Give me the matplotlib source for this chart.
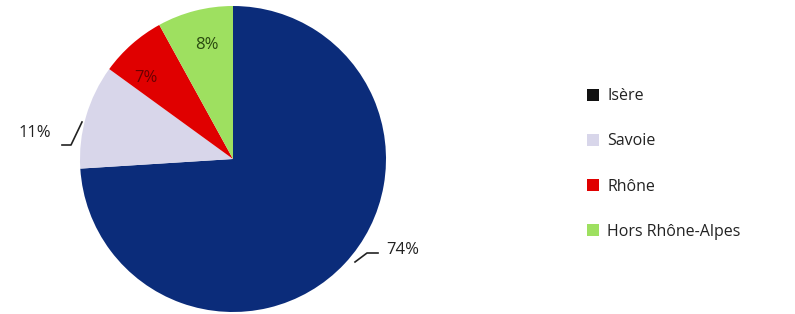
import matplotlib.pyplot as plt
from matplotlib.patches import Patch

# Répartition par origine
regions = ["Isère", "Savoie", "Rhône", "Hors Rhône-Alpes"]
parts = [74, 11, 7, 8]
labels = ["74%", "11%", "7%", "8%"]
pie_colors = ["#0b2c7a", "#d8d6ea", "#e00000", "#9ee060"]
legend_colors = ["#111111", "#d8d6ea", "#e00000", "#9ee060"]

plt.rcParams["font.family"] = ["Open Sans", "DejaVu Sans"]

fig = plt.figure(figsize=(7.95, 3.14), dpi=100)
ax = fig.add_axes([0, 0, 1, 1])

wedges, _ = ax.pie(
    parts,
    colors=pie_colors,
    startangle=90,
    counterclock=False,
    center=(233, 155),
    radius=153,
    frame=True,
    wedgeprops=dict(linewidth=0),
)
ax.set_xlim(0, 795)
ax.set_ylim(0, 314)
ax.axis("off")

# ---------------------------------------------------
# Étiquettes de données
# ---------------------------------------------------
ax.text(403, 64, labels[0], fontsize=12, color="#222222", ha="center", va="center")
ax.plot([355, 367, 378], [52, 61, 61], color="#222222", linewidth=1.2)

ax.text(35, 181, labels[1], fontsize=12, color="#222222", ha="center", va="center")
ax.plot([62, 71, 82], [169, 169, 192], color="#222222", linewidth=1.2)

ax.text(146, 236, labels[2], fontsize=12, color="#6a0000", ha="center", va="center")
ax.text(207, 269, labels[3], fontsize=12, color="#2a4a10", ha="center", va="center")

# ---------------------------------------------------
# Légende
# ---------------------------------------------------
handles = [Patch(facecolor=c, edgecolor="none") for c in legend_colors]
fig.legend(
    handles,
    regions,
    loc="upper left",
    bbox_to_anchor=(573 / 795, 1 - 74 / 314),
    frameon=False,
    fontsize=11.5,
    handlelength=0.75,
    handleheight=0.75,
    handletextpad=0.5,
    labelspacing=1.82,
    labelcolor="#222222",
)

fig.savefig("out.png", dpi=100)
